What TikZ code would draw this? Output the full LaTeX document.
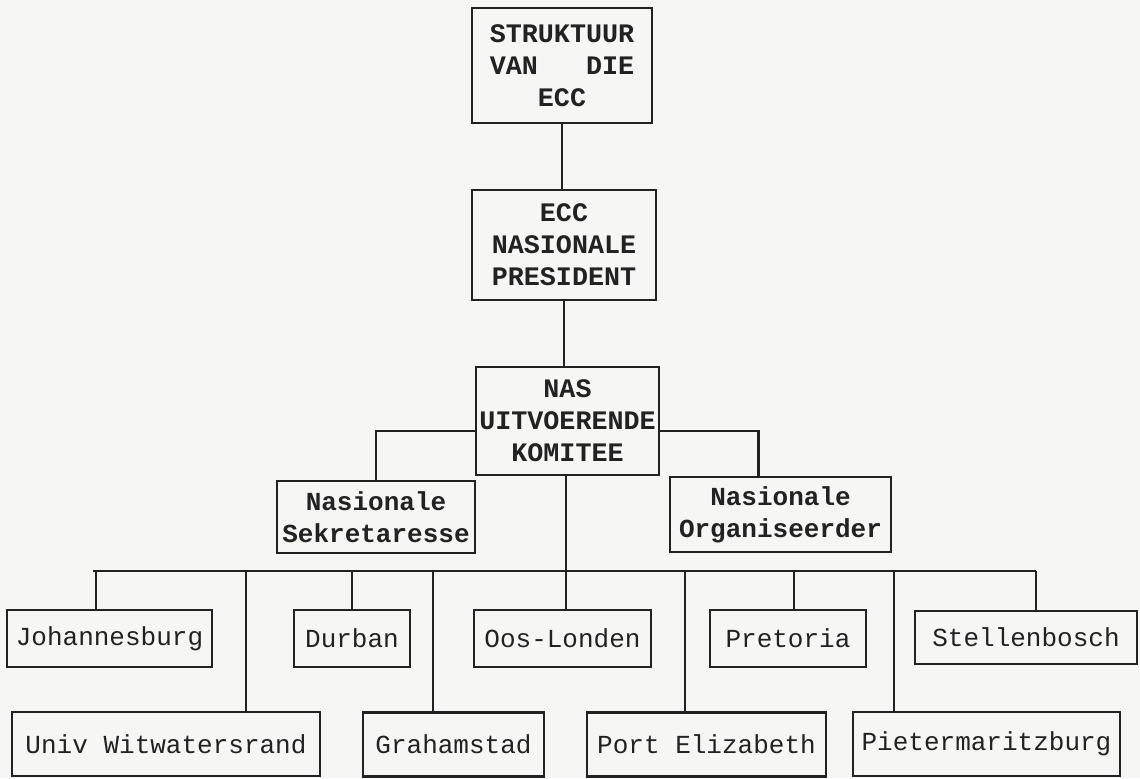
\documentclass[tikz,border=0pt]{standalone}
\usepackage{fontspec}
\setmonofont{Liberation Mono}
\usepackage{tikz}
\usetikzlibrary{calc}
\definecolor{ink}{RGB}{34,34,34}
\definecolor{paper}{RGB}{246,246,244}
\tikzset{
  box/.style={draw=ink, line width=2pt, text=ink, inner sep=0pt, align=center,
    font=\ttfamily\fontsize{18.5}{22}\selectfont},
  headbox/.style={box, font=\ttfamily\bfseries\fontsize{19}{22.7}\selectfont},
  midbox/.style={box, font=\ttfamily\bfseries\fontsize{18.5}{23}\selectfont},
  rowone/.style={box, minimum height=1.425cm},
  rowtwo/.style={box, minimum height=1.6cm},
  link/.style={draw=ink, line width=2.1pt},
}

\begin{document}
\begin{tikzpicture}[x=0.025cm, y=-0.025cm]
\fill[paper] (0,0) rectangle (1140,778);
\useasboundingbox (0,0) rectangle (1140,778);

\node[headbox, minimum width=4.5cm, minimum height=2.875cm] (struktuur) at (562,65.5) {STRUKTUUR\\VAN\ \ \ DIE\\ECC};
\node[headbox, minimum width=4.6cm, minimum height=2.75cm] (president) at (564,245) {ECC\\NASIONALE\\PRESIDENT};
\node[headbox, minimum width=4.575cm, minimum height=2.7cm] (komitee) at (567.5,421) {NAS\\UITVOERENDE\\KOMITEE};

\node[midbox, minimum width=4.95cm, minimum height=1.8cm] (sekretaresse) at (376,517) {Nasionale\\Sekretaresse};
\node[midbox, minimum width=5.525cm, minimum height=1.875cm] (organiseerder) at (780.5,514.5) {Nasionale\\Organiseerder};

\node[rowone, minimum width=5.125cm] (jhb) at (109.5,638.5) {Johannesburg};
\node[rowone, minimum width=2.9cm] (durban) at (352,638.5) {Durban};
\node[rowone, minimum width=4.425cm] (ooslonden) at (562.5,638.5) {Oos-Londen};
\node[rowone, minimum width=3.9cm] (pretoria) at (788,638.5) {Pretoria};
\node[rowone, minimum width=5.55cm, minimum height=1.325cm] (stellenbosch) at (1026,637.5) {Stellenbosch};

\node[rowtwo, minimum width=7.7cm] (wits) at (166,744) {Univ Witwatersrand};
\node[rowtwo, minimum width=4.525cm] (grahamstad) at (453.5,744.5) {Grahamstad};
\node[rowtwo, minimum width=5.975cm] (pe) at (706.5,744.5) {Port Elizabeth};
\node[rowtwo, minimum width=6.675cm] (pmb) at (986.5,744) {Pietermaritzburg};

\draw[link] (struktuur.south) -- (struktuur.south |- president.north);
\draw[link] (president.south) -- (president.south |- komitee.north);
\draw[link] ([yshift=-0.25cm]komitee.west) -| (sekretaresse.north);
\draw[link] ([yshift=-0.25cm]komitee.east) -| ([xshift=-0.56cm]organiseerder.north);

\foreach \n/\x in {jhb/96, durban/352, ooslonden/566, pretoria/794, stellenbosch/1036,
                   wits/246, grahamstad/433, pe/685, pmb/894}
{
  \coordinate (t\n) at (\x,571);
  \draw[link] (t\n) -- (t\n |- \n.north);
}
\draw[link] ([xshift=-0.075cm]tjhb) -- (tstellenbosch);
\draw[link] (tooslonden |- komitee.south) -- (tooslonden);
\end{tikzpicture}
\end{document}
